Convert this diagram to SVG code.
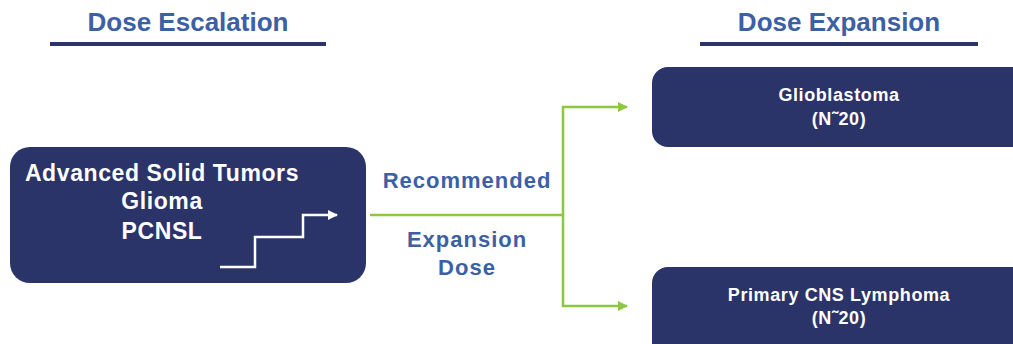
<svg xmlns="http://www.w3.org/2000/svg" width="1013" height="344" viewBox="0 0 1013 344">
<defs>
<style>
.box{fill:#2b3468;}
.title{font-family:"Liberation Sans",Arial,sans-serif;font-weight:bold;font-size:26px;fill:#3c60a4;text-anchor:middle;}
.lbl{font-family:"Liberation Sans",Arial,sans-serif;font-weight:bold;font-size:22px;letter-spacing:1px;fill:#3c60a4;text-anchor:middle;}
.wt{font-family:"Liberation Sans",Arial,sans-serif;font-weight:bold;font-size:23px;letter-spacing:0.6px;fill:#ffffff;text-anchor:middle;}
.ws{font-family:"Liberation Sans",Arial,sans-serif;font-weight:bold;font-size:18px;letter-spacing:0.6px;fill:#ffffff;text-anchor:middle;}
.rule{stroke:#2b3468;stroke-width:4;}
.conn{fill:none;stroke:#8dc63f;stroke-width:2.5;}
</style>
<marker id="ga" viewBox="0 0 10 10" refX="9" refY="5" markerWidth="4" markerHeight="4" orient="auto" markerUnits="strokeWidth">
<path d="M0,0 L10,5 L0,10 z" fill="#8dc63f"/>
</marker>
<marker id="wa" viewBox="0 0 10 10" refX="9" refY="5" markerWidth="4" markerHeight="4" orient="auto" markerUnits="strokeWidth">
<path d="M0,0 L10,5 L0,10 z" fill="#ffffff"/>
</marker>
</defs>
<rect width="1013" height="344" fill="#ffffff"/>
<g id="header-escalation">
<text class="title" x="188" y="31">Dose Escalation</text>
<line class="rule" x1="50" y1="44" x2="326" y2="44"/>
</g>
<g id="header-expansion">
<text class="title" x="839" y="31">Dose Expansion</text>
<line class="rule" x1="700" y1="44" x2="978" y2="44"/>
</g>
<g id="escalation">
<rect class="box" x="10" y="147" width="356" height="136" rx="20"/>
<text class="wt" x="162" y="181">Advanced Solid Tumors</text>
<text class="wt" x="162" y="209">Glioma</text>
<text class="wt" x="162" y="239">PCNSL</text>
<polyline points="220,267 255,267 255,237 303,237 303,215 337,215" fill="none" stroke="#ffffff" stroke-width="2.5" marker-end="url(#wa)"/>
</g>
<g id="glioblastoma">
<rect class="box" x="652" y="67" width="380" height="80" rx="16"/>
<text class="ws" x="839" y="101">Glioblastoma</text>
<text class="ws" x="839" y="125">(N˜20)</text>
</g>
<g id="pcnsl">
<rect class="box" x="652" y="267" width="380" height="100" rx="16"/>
<text class="ws" x="839" y="301">Primary CNS Lymphoma</text>
<text class="ws" x="839" y="324">(N˜20)</text>
</g>
<g id="connectors">
<polyline class="conn" points="370,215 563,215"/>
<polyline class="conn" points="563,215 563,107 627,107" marker-end="url(#ga)"/>
<polyline class="conn" points="563,215 563,306 627,306" marker-end="url(#ga)"/>
</g>
<g id="connector-labels">
<text class="lbl" x="467" y="188">Recommended</text>
<text class="lbl" x="467" y="247">Expansion</text>
<text class="lbl" x="467" y="275">Dose</text>
</g>
</svg>
